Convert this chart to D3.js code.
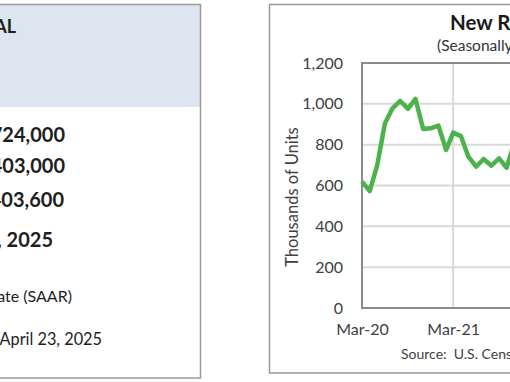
<!DOCTYPE html>
<html>
<head>
<meta charset="utf-8">
<script src="https://cdn.jsdelivr.net/npm/d3@7"></script>
<style>
	body { margin: 0; background: #fff; }
	svg { display: block; font-family: Lato, "Open Sans", sans-serif; }
	text { white-space: pre; }
</style>
</head>
<body>
<svg class="chart"></svg>
<script>
var width = 510,
	height = 382;

// monthly sales, thousands of units (SAAR), starting Mar-20
var months = ["2020-03", "2020-04", "2020-05", "2020-06", "2020-07", "2020-08", "2020-09",
	"2020-10", "2020-11", "2020-12", "2021-01", "2021-02", "2021-03", "2021-04", "2021-05",
	"2021-06", "2021-07", "2021-08", "2021-09", "2021-10", "2021-11"];
var sales = [619, 573, 700, 905, 978, 1014, 975, 1024, 877, 880, 893, 774, 859, 842, 741,
	692, 730, 697, 733, 687, 811];

var yTicks = [0, 200, 400, 600, 800, 1000, 1200];
var xTicks = ["2020-03", "2021-03", "2022-03", "2023-03", "2024-03", "2025-03"];

var panelLines = [
	{ text: "NATIONAL", weight: "bold", size: 18 },
	{ text: "Sales: 724,000", weight: "bold", size: 20 },
	{ text: "Median Price: $403,000", weight: "bold", size: 20 },
	{ text: "Average Price: $403,600", weight: "bold", size: 20 },
	{ text: "March, 2025", weight: "bold", size: 20 },
	{ text: "Seasonally Adjusted Annual Rate (SAAR)", weight: "normal", size: 16 },
	{ text: "Released April 23, 2025", weight: "normal", size: 16.3 }
];
var panelY = [33, 142, 173, 207, 247, 302, 345],
	panelEnd = [16, 65, 65, 64, 53, 72, 102];

var parse = d3.timeParse("%Y-%m");
var data = months.map(function(m, i) { return { date: parse(m), value: sales[i] }; });

var plot = { left: 362, top: 63, bottom: 308 };

var x = d3.scaleTime()
	.domain([parse(xTicks[0]), parse(xTicks[xTicks.length - 1])])
	.range([plot.left, plot.left + 60 * 7.6]);

var y = d3.scaleLinear()
	.domain([0, 1200])
	.range([plot.bottom, plot.top]);

var chart = d3.select(".chart")
	.attr("width", width)
	.attr("height", height);

// left summary panel
chart.append("rect")
	.attr("x", -10).attr("y", 4.5)
	.attr("width", 210.5).attr("height", 102.5)
	.attr("fill", "#dde5f0");

chart.append("rect")
	.attr("x", -10).attr("y", 4.5)
	.attr("width", 210.5).attr("height", 373.5)
	.attr("fill", "none")
	.attr("stroke", "#9a9a9a")
	.attr("stroke-width", 1.5);

chart.selectAll(".panel-text")
	.data(panelLines)
  .enter().append("text")
	.attr("class", "panel-text")
	.attr("x", function(d, i) { return panelEnd[i]; })
	.attr("y", function(d, i) { return panelY[i]; })
	.attr("text-anchor", "end")
	.attr("font-weight", function(d) { return d.weight; })
	.attr("font-size", function(d) { return d.size; })
	.attr("fill", "#1e1e1e")
	.text(function(d) { return d.text; });

// right chart frame
chart.append("rect")
	.attr("x", 269.5).attr("y", 4.5)
	.attr("width", 320).attr("height", 368.5)
	.attr("fill", "none")
	.attr("stroke", "#9a9a9a")
	.attr("stroke-width", 1.5);

chart.append("text")
	.attr("x", 450).attr("y", 30)
	.attr("font-weight", "bold")
	.attr("font-size", 20.5)
	.attr("fill", "#1a1a1a")
	.text("New Residential Sales");

chart.append("text")
	.attr("x", 437).attr("y", 51)
	.attr("font-size", 15.5)
	.attr("fill", "#333")
	.text("(Seasonally Adjusted Annual Rate)");

// gridlines
chart.append("g")
	.selectAll("line")
	.data(yTicks.slice(1))
  .enter().append("line")
	.attr("x1", plot.left).attr("x2", width)
	.attr("y1", function(d) { return y(d); })
	.attr("y2", function(d) { return y(d); })
	.attr("stroke", "#d9d9d9")
	.attr("stroke-width", 2);

chart.append("g")
	.selectAll("line")
	.data(xTicks.slice(1))
  .enter().append("line")
	.attr("x1", function(d) { return x(parse(d)); })
	.attr("x2", function(d) { return x(parse(d)); })
	.attr("y1", plot.top).attr("y2", plot.bottom)
	.attr("stroke", "#d9d9d9")
	.attr("stroke-width", 2);

// plot area border
chart.append("rect")
	.attr("x", plot.left).attr("y", plot.top)
	.attr("width", 600).attr("height", plot.bottom - plot.top)
	.attr("fill", "none")
	.attr("stroke", "#8c8c8c")
	.attr("stroke-width", 2);

// axes
var yAxis = d3.axisLeft(y)
	.tickValues(yTicks)
	.tickFormat(d3.format(","))
	.tickSize(0)
	.tickPadding(19);

chart.append("g")
	.attr("transform", "translate(" + plot.left + ",0)")
	.call(yAxis)
	.call(function(g) { g.select(".domain").remove(); })
	.selectAll("text")
	.attr("font-family", "Lato")
	.attr("font-size", 16)
	.attr("fill", "#404040");

var xAxis = d3.axisBottom(x)
	.tickValues(xTicks.map(parse))
	.tickFormat(d3.timeFormat("%b-%y"))
	.tickSize(0)
	.tickPadding(16);

chart.append("g")
	.attr("transform", "translate(0," + plot.bottom + ")")
	.call(xAxis)
	.call(function(g) { g.select(".domain").remove(); })
	.selectAll("text")
	.attr("font-family", "Lato")
	.attr("font-size", 16)
	.attr("fill", "#404040");

chart.append("text")
	.attr("transform", "translate(298,197) rotate(-90)")
	.attr("text-anchor", "middle")
	.attr("font-size", 16.5)
	.attr("fill", "#404040")
	.text("Thousands of Units");

chart.append("text")
	.attr("x", 401).attr("y", 359)
	.attr("font-size", 14)
	.attr("fill", "#404040")
	.text("Source:  U.S. Census Bureau");

// sales line
var line = d3.line()
	.x(function(d) { return x(d.date); })
	.y(function(d) { return y(d.value); });

chart.append("path")
	.datum(data)
	.attr("fill", "none")
	.attr("stroke", "#4cb24c")
	.attr("stroke-width", 4.5)
	.attr("stroke-linejoin", "round")
	.attr("d", line);
</script>
</body>
</html>
